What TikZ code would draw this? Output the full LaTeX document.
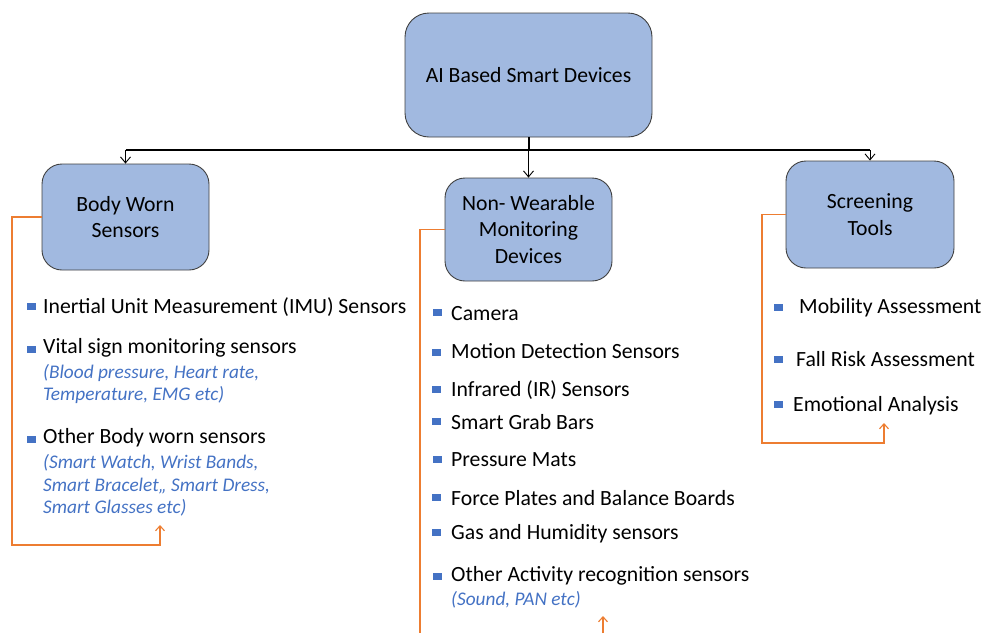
\documentclass[tikz,border=0pt]{standalone}
\usepackage{fontspec}
\setmainfont{Carlito}
\usetikzlibrary{arrows.meta}
\definecolor{boxfill}{RGB}{161,185,224}
\definecolor{boxline}{RGB}{64,64,64}
\definecolor{accent}{RGB}{237,125,49}
\definecolor{bulletblue}{RGB}{68,114,196}
\definecolor{notecol}{RGB}{68,114,196}
\tikzset{
  catbox/.style={draw=boxline, line width=0.9pt, fill=boxfill, rounded corners=20pt,
    align=center, font=\fontsize{21.7}{26.5}\selectfont, inner sep=0pt},
  item/.style={anchor=mid west, inner sep=0pt, yshift=-5pt, font=\fontsize{21.7}{26}\selectfont},
  note/.style={anchor=west, inner sep=0pt, align=left, text=notecol,
    font=\fontsize{19.3}{22.5}\selectfont\itshape},
  bul/.style={fill=bulletblue, inner sep=0pt, minimum width=9pt, minimum height=7pt},
  feed/.style={draw=black, line width=0.9pt, -{Straight Barb[length=6pt,width=10pt]}},
  bracket/.style={draw=accent, line width=1.1pt, -{Straight Barb[length=5pt,width=9pt]}}
}
\begin{document}
\begin{tikzpicture}[x=1pt,y=-1pt]
\useasboundingbox (0,0) rectangle (989,633);

% category boxes
\node[catbox, minimum width=247pt, minimum height=124pt, rounded corners=24pt] (top) at (528.5,75) {AI Based Smart Devices};
\node[catbox, minimum width=167pt, minimum height=106pt] (body) at (125.5,217) {Body Worn\\Sensors};
\node[catbox, minimum width=167pt, minimum height=103pt] (nwd) at (528.5,229.5) {Non- Wearable\\Monitoring\\Devices};
\node[catbox, minimum width=168pt, minimum height=107pt] (scr) at (870,214.5) {Screening\\Tools};

% distribution bus
\coordinate (bus) at (0,150);
\draw[line width=2pt] (top.south) -- (top.south |- bus);
\draw[line width=1.3pt] (body.north |- bus) -- (scr.north |- bus);
\draw[feed] (body.north |- bus) -- (body.north);
\draw[feed] (nwd.north |- bus) -- (nwd.north);
\draw[feed] (scr.north |- bus) -- (scr.north);

% body worn sensors list
\node[bul] (b1) at (31,306) {};
\node[item] (t1) at (43,306) {Inertial Unit Measurement (IMU) Sensors};
\node[bul] (b2) at (31,349) {};
\node[item] (t2) at (43,346) {Vital sign monitoring sensors};
\node[note] (n2) at (43,384) {(Blood pressure, Heart rate,\\Temperature, EMG etc)};
\node[bul] (b3) at (31,439) {};
\node[item] (t3) at (43,436) {Other Body worn sensors};
\node[note] (n3) at (43,485.5) {(Smart Watch, Wrist Bands,\\Smart Bracelet,, Smart Dress,\\Smart Glasses etc)};

% non-wearable devices list
\node[bul] (c1) at (437,312) {};
\node[item] (u1) at (451,313) {Camera};
\node[bul] (c2) at (436,352) {};
\node[item] (u2) at (451,351) {Motion Detection Sensors};
\node[bul] (c3) at (436,389) {};
\node[item] (u3) at (451,389) {Infrared (IR) Sensors};
\node[bul] (c4) at (436,421) {};
\node[item] (u4) at (451,422) {Smart Grab Bars};
\node[bul] (c5) at (437,459) {};
\node[item] (u5) at (451,459) {Pressure Mats};
\node[bul] (c6) at (436,497) {};
\node[item] (u6) at (451,498) {Force Plates and Balance Boards};
\node[bul] (c7) at (436,532) {};
\node[item] (u7) at (451,532) {Gas and Humidity sensors};
\node[bul] (c8) at (437,576) {};
\node[item] (u8) at (451,574) {Other Activity recognition sensors};
\node[note] (m8) at (451,600) {(Sound, PAN etc)};

% screening tools list
\node[bul] (d1) at (778,307) {};
\node[item] (v1) at (799,306) {Mobility Assessment};
\node[bul] (d2) at (778,359) {};
\node[item] (v2) at (796,359) {Fall Risk Assessment};
\node[bul] (d3) at (778,404) {};
\node[item] (v3) at (793,404) {Emotional Analysis};

% grouping brackets
\coordinate (bodytip) at (160,525);
\draw[bracket] (body.west) -| (12,545) -| (bodytip);
\coordinate (nwdfoot) at (420,633);
\draw[draw=accent, line width=1.1pt] (nwd.west) -| (nwdfoot);
\coordinate (nwdbase) at (603,633);
\coordinate (nwdtip) at (603,616);
\draw[bracket] (nwdbase) -- (nwdtip);
\coordinate (scrtip) at (884,423);
\draw[bracket] (scr.west) -| (762,443) -| (scrtip);
\end{tikzpicture}
\end{document}
